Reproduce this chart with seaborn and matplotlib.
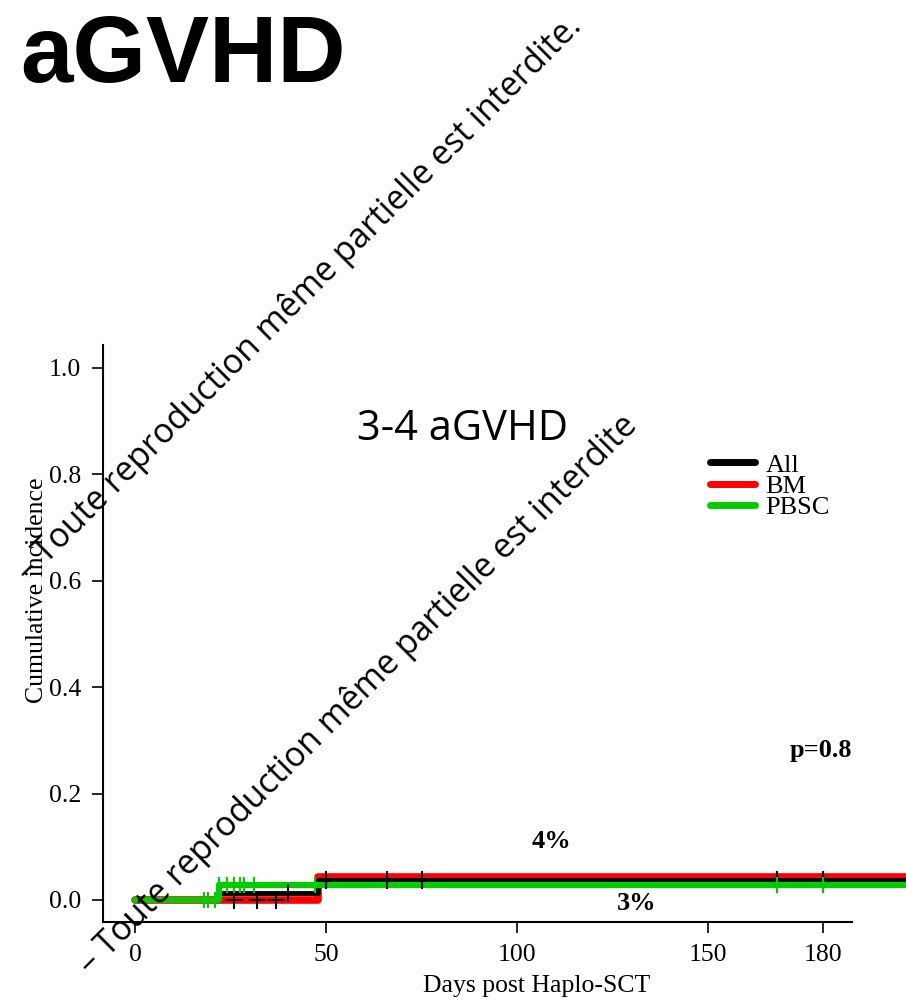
import numpy as np
import pandas as pd
import matplotlib
matplotlib.use("Agg")
import matplotlib.pyplot as plt
from matplotlib.lines import Line2D
import seaborn as sns

# step curves (days post transplant, cumulative incidence)
all_days = [0, 22, 48, 202]
all_ci = [0.0, 0.014, 0.037, 0.037]
bm_days = [0, 48, 202]
bm_ci = [0.0, 0.043, 0.043]
pbsc_days = [0, 22, 202]
pbsc_ci = [0.0, 0.028, 0.028]

# censoring marks
bm_cens = [26, 32, 37]
all_cens = [40, 50, 66, 75, 168, 180]
pbsc_cens = [18, 19, 21, 22, 24, 26, 27.5, 28.5, 31, 47, 168, 180]

xticks = [0, 50, 100, 150, 180]
yticks = [0.0, 0.2, 0.4, 0.6, 0.8, 1.0]
groups = ["All", "BM", "PBSC"]
colors = {"All": "#000000", "BM": "#ff0000", "PBSC": "#00cc00"}


def step_at(days, ci, t):
    idx = np.searchsorted(days, t, side="right") - 1
    return np.asarray(ci)[idx]


sns.set_style("ticks")
plt.rcParams.update({
    "text.color": "black", "axes.labelcolor": "black", "axes.edgecolor": "black",
    "xtick.color": "black", "ytick.color": "black",
})
serif = ["Liberation Serif", "DejaVu Serif"]

fig = plt.figure(figsize=(9.06, 10), dpi=100)
ax = fig.add_axes([103 / 906, 1 - 922 / 1000, 1 - 103 / 906, (922 - 345) / 1000])

curves = {"All": (all_days, all_ci, 3.5), "BM": (bm_days, bm_ci, 5.5), "PBSC": (pbsc_days, pbsc_ci, 4.5)}
for g in ["BM", "All", "PBSC"]:
    d, c, lw = curves[g]
    df = pd.DataFrame({"day": d, "ci": c})
    sns.lineplot(data=df, x="day", y="ci", ax=ax, color=colors[g], lw=lw,
                 drawstyle="steps-post", estimator=None, legend=False)

bm_marks = pd.DataFrame({"day": bm_cens, "ci": step_at(bm_days, bm_ci, bm_cens)})
all_marks = pd.DataFrame({"day": all_cens, "ci": step_at(all_days, all_ci, all_cens)})
pbsc_marks = pd.DataFrame({"day": pbsc_cens, "ci": step_at(pbsc_days, pbsc_ci, pbsc_cens)})
sns.scatterplot(data=bm_marks, x="day", y="ci", ax=ax, marker="+", s=170, color="black",
                linewidth=1.5, zorder=5, legend=False)
sns.scatterplot(data=all_marks, x="day", y="ci", ax=ax, marker="+", s=170, color="black",
                linewidth=1.5, zorder=5, legend=False)
sns.scatterplot(data=pbsc_marks, x="day", y="ci", ax=ax, marker="|", s=130, color=colors["PBSC"],
                linewidth=1.5, zorder=6, legend=False)

ax.set_xlim(-8.4, 201.8)
ax.set_ylim(-0.0414, 1.043)
ax.set_xticks(xticks)
ax.set_yticks(yticks)
ax.set_xticklabels([str(t) for t in xticks], family=serif, fontsize=18.5)
ax.set_yticklabels([f"{t:.1f}" for t in yticks], family=serif, fontsize=18.5)
ax.tick_params(direction="out", length=8, width=1.2, pad=8)
for s in ["top", "right"]:
    ax.spines[s].set_visible(False)
ax.spines["left"].set_linewidth(1.5)
ax.spines["bottom"].set_linewidth(1.5)
ax.spines["bottom"].set_bounds(-8.4, 187.7)

ax.set_xlabel("Days post Haplo-SCT", family=serif, fontsize=18.5)
ax.set_ylabel("Cumulative incidence", family=serif, fontsize=18.5)
ax.xaxis.set_label_coords(0.54, -0.091)
ax.yaxis.set_label_coords(-0.069, 0.575)

handles = [Line2D([], [], color=colors[g], lw=5, solid_capstyle="round") for g in groups]
fig.legend(handles, groups, loc="upper left",
           bbox_to_anchor=(697 / 906, 1 - 440 / 1000), frameon=False,
           prop={"family": serif, "size": 19}, handlelength=1.7,
           handletextpad=0.4, labelspacing=-0.08, borderpad=0)

fig.text(463 / 906, 1 - 440 / 1000, "3-4 aGVHD", ha="center", va="baseline",
         family=["Open Sans", "DejaVu Sans"], fontsize=30)
fig.text(821 / 906, 1 - 750 / 1000, "p=0.8", ha="center", va="center",
         family=serif, fontsize=19, weight="bold")
fig.text(551 / 906, 1 - 842 / 1000, "4%", ha="center", va="center",
         family=serif, fontsize=19, weight="bold")
fig.text(637 / 906, 1 - 903 / 1000, "3%", ha="center", va="center",
         family=serif, fontsize=19, weight="bold")

fig.text(20 / 906, 1 - 82 / 1000, "aGVHD", ha="left", va="baseline",
         family=["Liberation Sans", "DejaVu Sans"], fontsize=68, weight="bold")

wm = "\u2013 Toute reproduction même partielle est interdite."
fig.text(28 / 906, 1 - 582 / 1000, wm, rotation=45, rotation_mode="anchor",
         ha="left", va="baseline", family=["Open Sans", "DejaVu Sans"], fontsize=24.3)
fig.text(90 / 906, 1 - 975 / 1000, wm[:-1], rotation=45, rotation_mode="anchor",
         ha="left", va="baseline", family=["Open Sans", "DejaVu Sans"], fontsize=24.3)

fig.savefig("out.png", dpi=100)
